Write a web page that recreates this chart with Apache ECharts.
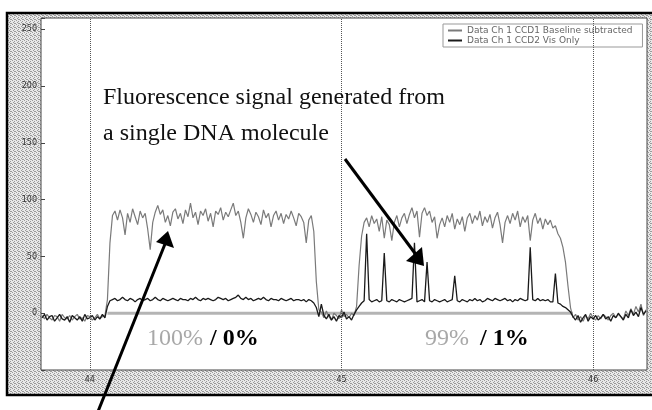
<!DOCTYPE html>
<html>
<head>
    <meta charset="utf-8">
    <title>Single DNA molecule fluorescence</title>
    <script src="https://cdn.jsdelivr.net/npm/echarts@6.0.0/dist/echarts.min.js"></script>
    <style>
        html, body { margin: 0; padding: 0; background: #fff; }
        #chart { width: 652px; height: 410px; }
    </style>
</head>
<body>
    <div id="chart"></div>

    <script>
        // sampling grid of the traces (x axis units)
        var xStart = 43.81;
        var xStep = 0.01;

        var xTicks = [44, 45, 46];
        var yTicks = [0, 50, 100, 150, 200, 250];

        var seriesNames = ['Data Ch 1 CCD1 Baseline subtracted', 'Data Ch 1 CCD2 Vis Only'];

        // upper (gray) trace
        var ccd1Values = [
            // baseline before
            -2, -5, -1, -4, -6, -2, -3, -7, -1, -4, -5, -2, -6, -3, -1, -5, -4, -7, -2, -3, -6, -4, -1, -5, -3, -2,
            // rise
            12, 62,
            // first molecule burst (100% / 0%)
            86, 90, 82, 91, 84, 69, 88, 80, 92, 85,
            78, 90, 84, 88, 74, 56, 80, 89, 95, 87,
            91, 80, 86, 77, 89, 92, 83, 88, 79, 91,
            85, 97, 84, 89, 78, 90, 86, 92, 81, 88,
            76, 90, 87, 93, 82, 89, 85, 91, 97, 86,
            90, 80, 66, 84, 92, 87, 80, 89, 85, 78,
            91, 84, 88, 76, 86, 90, 82, 88, 79, 87,
            83, 90, 84, 77, 88, 85, 80, 62, 82, 86,
            72,
            // fall
            28, 3,
            // gap
            1, -4, 2, -3, -6, 0, -2, -5, 3, -3, -1, -4, 0, -2,
            // rise
            6, 42, 68,
            // second burst (99% / 1%)
            80, 84, 76, 86, 79, 83, 72, 85, 66, 82,
            78, 64, 80, 86, 76, 84, 88, 79, 87, 93,
            84, 90, 67, 88, 93, 86, 90, 80, 85, 66,
            78, 84, 76, 86, 80, 88, 74, 83, 78, 85,
            72, 84, 88, 79, 86, 82, 90, 77, 85, 80,
            87, 75, 84, 89, 78, 62, 80, 86, 79, 88,
            82, 90, 76, 85, 80, 86, 64, 82, 88, 79,
            84, 74, 83, 78, 82, 75, 77, 70, 66, 58,
            // fall
            45, 24, 5,
            // baseline after
            -4, -1, -6, -3, -7, -2, -5, 0, -4, -6, -2, -5, -1, -3, -6, -2, 0, -4, -1, -3,
            -5, 2, -2, 4, -1, 6, 1, 8, -2, 3
        ];

        // lower (black) trace with single molecule spikes
        var ccd2Values = [
            -4, -1, -6, -3, -2, -7, -4, -1, -5, -6, -3, -8, -2, -4, -6, -3, -7, -1, -5, -4, -2, -6, -3, -5, -1, -4,
            6, 11,
            12, 13, 11, 12, 14, 12, 11, 13, 12, 10,
            12, 13, 11, 12, 13, 11, 12, 14, 12, 11,
            13, 12, 11, 12, 13, 12, 11, 13, 12, 12,
            11, 13, 12, 14, 12, 11, 13, 12, 13, 12,
            11, 12, 14, 13, 12, 13, 11, 12, 13, 14,
            16, 13, 12, 14, 12, 13, 11, 12, 13, 12,
            14, 12, 11, 13, 12, 12, 11, 13, 12, 11,
            12, 13, 11, 12, 12, 11, 12, 10, 12, 11,
            9,
            5, -3,
            8, -2, -5, -1, -6, -3, -7, -2, -4, 1, -5, -3, -6, -1,
            3, 6, 9,
            11, 70, 12, 10, 11, 12, 10, 11, 53, 11,
            10, 12, 11, 10, 12, 11, 10, 11, 12, 13,
            62, 10, 11, 12, 10, 45, 11, 10, 12, 11,
            10, 11, 12, 10, 11, 12, 33, 11, 10, 12,
            11, 10, 12, 11, 13, 11, 12, 10, 11, 13,
            12, 11, 13, 12, 11, 12, 13, 11, 12, 10,
            12, 11, 13, 12, 11, 12, 58, 12, 11, 13,
            11, 12, 11, 12, 10, 10, 35, 9, 8, 6,
            5, 3, 1,
            -3, -6, -2, -8, -4, -1, -7, -3, -5, -2, -6, -4, -1, -5, -3, -7, -2, -4, 0, -3,
            -6, -1, -4, 3, -2, 1, -3, 5, -1, 2
        ];

        // flat zero reference line under the bursts
        var zeroLineX = [44.07, 45.92];

        function toPairs(values) {
            return values.map(function (v, i) {
                return [+(xStart + i * xStep).toFixed(2), v];
            });
        }

        // stippled gray like the scanned figure frame
        function makeStipple() {
            var c = document.createElement('canvas');
            c.width = 4;
            c.height = 4;
            var ctx = c.getContext('2d');
            ctx.fillStyle = '#e8e8e8';
            ctx.fillRect(0, 0, 4, 4);
            ctx.fillStyle = '#9a9a9a';
            [[0, 0], [2, 1], [1, 2], [3, 3], [2, 3]].forEach(function (p) {
                ctx.fillRect(p[0], p[1], 1, 1);
            });
            return c;
        }

        function arrowHead(points) {
            return { type: 'polygon', z: 100, shape: { points: points }, style: { fill: '#000' } };
        }

        function label(text, x, y, color, bold) {
            return {
                type: 'text', z: 100, x: x, y: y,
                style: {
                    text: text,
                    fontFamily: 'Liberation Serif',
                    fontSize: 24,
                    fontWeight: bold ? 'bold' : 'normal',
                    fill: color,
                    verticalAlign: 'middle'
                }
            };
        }

        var chart = echarts.init(document.getElementById('chart'));
        var option = {
            animation: false,
            grid: {
                left: 41, right: 5, top: 18, bottom: 40,
                show: true,
                backgroundColor: '#fff',
                borderColor: '#444',
                borderWidth: 1
            },
            legend: {
                data: seriesNames,
                orient: 'vertical',
                left: 443,
                top: 24,
                padding: [2, 10, 2, 5],
                itemWidth: 14,
                itemHeight: 2,
                itemGap: 1,
                icon: 'rect',
                selectedMode: false,
                backgroundColor: '#fff',
                borderColor: '#999',
                borderWidth: 1,
                textStyle: { fontFamily: 'DejaVu Sans', fontSize: 9, color: '#666', lineHeight: 8 }
            },
            xAxis: {
                type: 'value',
                min: 43.806,
                max: 46.214,
                axisLine: { show: false },
                axisTick: { show: false },
                splitLine: { show: false },
                axisLabel: {
                    customValues: xTicks,
                    margin: 6,
                    fontFamily: 'DejaVu Sans',
                    fontSize: 8,
                    color: '#333',
                    formatter: function (v) {
                        return xTicks.some(function (t) { return Math.abs(t - v) < 1e-6; }) ? String(v) : '';
                    }
                }
            },
            yAxis: {
                type: 'value',
                min: -50,
                max: 260,
                interval: 50,
                axisLine: { show: false },
                axisTick: { show: true, inside: true, length: 4, lineStyle: { color: '#444' } },
                splitLine: { show: false },
                axisLabel: {
                    margin: 4,
                    fontFamily: 'DejaVu Sans',
                    fontSize: 8,
                    color: '#333',
                    formatter: function (v) {
                        return yTicks.indexOf(v) >= 0 ? String(v) : '';
                    }
                }
            },
            series: [
                {
                    name: 'zero',
                    type: 'line',
                    data: zeroLineX.map(function (x) { return [x, 0]; }),
                    symbol: 'none',
                    silent: true,
                    lineStyle: { color: '#b4b4b4', width: 3 },
                    z: 1,
                    markLine: {
                        silent: true,
                        symbol: ['none', 'none'],
                        label: { show: false },
                        lineStyle: { type: 'dotted', color: '#555', width: 1 },
                        data: xTicks.map(function (t) { return { xAxis: t }; })
                    }
                },
                {
                    name: seriesNames[0],
                    type: 'line',
                    data: toPairs(ccd1Values),
                    symbol: 'none',
                    color: '#7a7a7a',
                    lineStyle: { color: '#7a7a7a', width: 1.2 },
                    z: 2
                },
                {
                    name: seriesNames[1],
                    type: 'line',
                    data: toPairs(ccd2Values),
                    symbol: 'none',
                    color: '#1a1a1a',
                    lineStyle: { color: '#1a1a1a', width: 1.3 },
                    z: 3
                }
            ],
            graphic: [
                {
                    type: 'rect', z: -10, silent: true,
                    shape: { x: 7, y: 13, width: 660, height: 382 },
                    style: { fill: { image: makeStipple(), repeat: 'repeat' }, stroke: '#000', lineWidth: 2.5 }
                },
                label('Fluorescence signal generated from', 103, 98, '#111', false),
                label('a single DNA molecule', 103, 134, '#111', false),
                label('100%', 147, 339, '#a8a8a8', false),
                label('/ 0%', 210, 339, '#000', true),
                label('99%', 425, 339, '#a8a8a8', false),
                label('/ 1%', 480, 339, '#000', true),
                // arrow to the spikes
                {
                    type: 'line', z: 100,
                    shape: { x1: 345, y1: 159, x2: 417, y2: 256 },
                    style: { stroke: '#000', lineWidth: 3 }
                },
                arrowHead([[406, 261], [422, 247], [424, 266]]),
                // arrow to the first burst
                {
                    type: 'line', z: 100,
                    shape: { x1: 97, y1: 414, x2: 165, y2: 244 },
                    style: { stroke: '#000', lineWidth: 3 }
                },
                arrowHead([[168, 231], [156, 242], [174, 248]])
            ]
        };
        chart.setOption(option);
    </script>
</body>
</html>
